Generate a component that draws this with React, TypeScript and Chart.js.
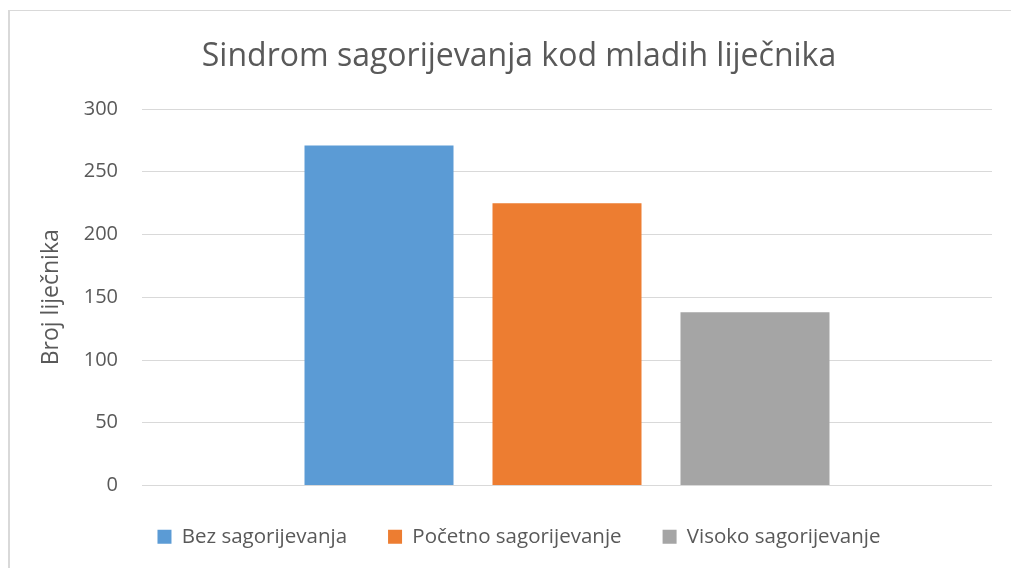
import React, { useEffect, useRef } from "react";
import { Chart, registerables } from "chart.js";

Chart.register(...registerables);

const categories = [""];
const seriesNames = ["Bez sagorijevanja", "Početno sagorijevanje", "Visoko sagorijevanje"];
const seriesValues = [271, 225, 138];
const seriesColors = ["#5B9BD5", "#ED7D31", "#A5A5A5"];
const yTicks = [0, 50, 100, 150, 200, 250, 300];

const chartTitle = "Sindrom sagorijevanja kod mladih liječnika";
const yTitle = "Broj liječnika";

const FONT = "'Open Sans', 'Noto Sans', sans-serif";
const TEXT = "#595959";
const GRID = "#D9D9D9";

export default function App() {
  const ref = useRef<HTMLCanvasElement | null>(null);

  useEffect(() => {
    if (!ref.current) return;
    const chart = new Chart(ref.current, {
      type: "bar",
      data: {
        labels: categories,
        datasets: seriesNames.map((name, i) => ({
          label: name,
          data: [seriesValues[i]],
          backgroundColor: seriesColors[i],
          borderWidth: 0,
          categoryPercentage: 0.6635,
          barPercentage: 0.7926,
        })),
      },
      options: {
        responsive: false,
        animation: false,
        devicePixelRatio: 1,
        layout: { padding: { left: 46, right: 19, top: 0, bottom: 0 } },
        plugins: {
          title: {
            display: true,
            text: chartTitle,
            color: TEXT,
            font: { family: FONT, size: 32, weight: "normal" },
            padding: { top: 38, bottom: 32.6 },
          },
          legend: {
            display: true,
            position: "bottom",
            labels: {
              color: TEXT,
              font: { family: FONT, size: 20.5 },
              boxWidth: 14,
              boxHeight: 14,
              padding: 41,
            },
          },
          tooltip: { enabled: false },
        },
        scales: {
          x: { display: false },
          y: {
            min: 0,
            max: 300,
            afterBuildTicks: (scale: any) => {
              scale.ticks = yTicks.map((v) => ({ value: v }));
            },
            afterFit: (scale: any) => {
              scale.width = 96;
            },
            border: { display: false },
            grid: { color: GRID, lineWidth: 1, drawTicks: false },
            ticks: {
              color: TEXT,
              font: { family: FONT, size: 20 },
              padding: 24,
            },
            title: {
              display: true,
              text: yTitle,
              color: TEXT,
              font: { family: FONT, size: 23 },
              padding: { top: -8, bottom: 0 },
            },
          },
        },
      },
    });
    return () => chart.destroy();
  }, []);

  return (
    <div style={{ position: "fixed", left: 0, top: 0, width: 1011, height: 568, overflow: "hidden", background: "#fff" }}>
      <div
        style={{
          position: "absolute",
          left: 8,
          top: 10,
          width: 1100,
          height: 700,
          borderLeft: "2px solid #D9D9D9",
          borderTop: "1px solid #D9D9D9",
        }}
      />
      <canvas ref={ref} width={1011} height={557} style={{ position: "absolute", left: 0, top: 0, width: 1011, height: 557 }} />
    </div>
  );
}
